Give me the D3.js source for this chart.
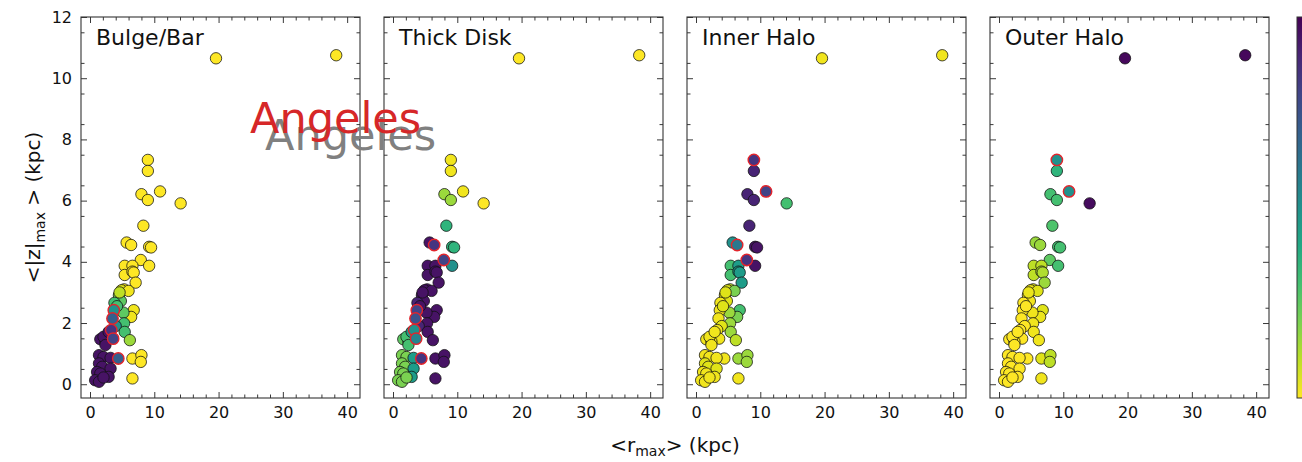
<!DOCTYPE html>
<html>
<head>
<meta charset="utf-8">
<title>Populations</title>
<style>
  body { margin: 0; background: #fff; }
  text { font-family: "DejaVu Sans", sans-serif; }
</style>
</head>
<body>
<script src="https://cdn.jsdelivr.net/npm/d3@7/dist/d3.min.js"></script>
<script>
var width = 1302, height = 462;

// panel titles
var panels = ["Bulge/Bar", "Thick Disk", "Inner Halo", "Outer Halo"];
// <r_max> (kpc)
var rmax = [19.6, 38.3, 9.0, 9.0, 8.0, 9.0, 10.9, 14.1, 8.3, 5.7,
            6.4, 9.2, 9.5, 7.9, 5.4, 6.6, 9.2, 5.4, 6.6, 6.8,
            7.1, 5.3, 4.9, 6.0, 4.5, 4.8, 3.8, 6.8, 6.4, 5.2,
            3.7, 3.5, 5.3, 4.0, 3.3, 5.4, 3.6, 6.2, 1.6, 2.4,
            2.1, 2.9, 2.4, 4.4, 6.6, 8.0, 7.9, 6.6, 1.4, 2.1,
            3.2, 1.4, 1.9, 3.2, 1.1, 1.6, 2.9, 0.8, 1.4, 2.1,
            4.2, 4.6];
// <|z|_max> (kpc)
var zmax = [10.65, 10.75, 7.33, 6.97, 6.21, 6.02, 6.30, 5.91, 5.18, 4.63,
            4.55, 4.49, 4.47, 4.06, 3.87, 3.87, 3.87, 3.57, 3.68, 3.65,
            3.32, 3.10, 3.07, 3.05, 2.91, 2.72, 2.66, 2.42, 2.20, 2.34,
            2.42, 2.15, 1.99, 1.90, 1.77, 1.71, 1.49, 1.44, 1.47, 1.39,
            1.55, 1.71, 1.28, 0.84, 0.84, 0.95, 0.73, 0.19, 0.95, 0.89,
            0.86, 0.68, 0.57, 0.51, 0.40, 0.35, 0.24, 0.13, 0.08, 0.22,
            2.55, 3.00];
// membership probability per population
var pBulge = [0, 0, 0, 0, 0, 0, 0, 0, 0, 0,
              0, 0, 0, 0, 0, 0, 0, 0, 0, 0,
              0, 0.02, 0.05, 0.02, 0.2, 0.25, 0.3, 0.02, 0.02, 0.25,
              0.5, 0.7, 0.3, 0.5, 0.85, 0.3, 0.8, 0.15, 0.95, 0.95,
              0.95, 0.95, 0.95, 0.7, 0, 0, 0, 0, 0.95, 0.95,
              0.95, 0.95, 0.95, 0.95, 0.95, 0.95, 0.95, 0.95, 0.95, 0.95,
              0.3, 0.1];
var pThick = [0, 0, 0.02, 0.02, 0.15, 0.15, 0.02, 0, 0.35, 0.95,
              0.85, 0.35, 0.35, 0.8, 0.95, 0.95, 0.5, 0.95, 0.95, 0.95,
              0.95, 0.95, 0.95, 0.95, 0.95, 0.95, 0.9, 0.95, 0.95, 0.95,
              0.8, 0.75, 0.95, 0.9, 0.5, 0.95, 0.55, 0.95, 0.25, 0.3,
              0.3, 0.45, 0.3, 0.85, 0.95, 0.95, 0.95, 0.95, 0.2, 0.2,
              0.45, 0.2, 0.2, 0.45, 0.2, 0.2, 0.45, 0.2, 0.2, 0.2,
              0.95, 0.95];
var pInner = [0.02, 0.02, 0.85, 0.9, 0.9, 0.9, 0.8, 0.3, 0.9, 0.5,
              0.6, 0.95, 0.95, 0.85, 0.3, 0.45, 0.95, 0.3, 0.45, 0.45,
              0.45, 0.1, 0.05, 0.2, 0.05, 0.05, 0.02, 0.3, 0.2, 0.15,
              0.02, 0.02, 0.15, 0.05, 0.02, 0.15, 0.02, 0.1, 0.02, 0.02,
              0.02, 0.02, 0.02, 0.02, 0.15, 0.15, 0.15, 0.02, 0.02, 0.02,
              0.02, 0.05, 0.05, 0.05, 0.02, 0.02, 0.02, 0.02, 0.02, 0.02,
              0.05, 0.05];
var pOuter = [0.98, 0.98, 0.5, 0.35, 0.3, 0.3, 0.5, 0.97, 0.28, 0.15,
              0.15, 0.3, 0.3, 0.25, 0.1, 0.1, 0.3, 0.1, 0.12, 0.12,
              0.15, 0.05, 0.03, 0.05, 0.02, 0.02, 0, 0.05, 0.03, 0.02,
              0, 0, 0.02, 0, 0, 0.02, 0, 0.02, 0, 0,
              0, 0, 0, 0, 0.05, 0.1, 0.1, 0.02, 0, 0,
              0, 0, 0, 0, 0, 0, 0, 0, 0, 0,
              0, 0.03];
// stars with an ambiguous assignment (red edge where their probability is notable)
var ambiguous = [2, 6, 10, 13, 30, 31, 34, 36, 43];

var probs = [pBulge, pThick, pInner, pOuter];
var xTicks = [0, 10, 20, 30, 40];
var yTicks = [0, 2, 4, 6, 8, 10, 12];

var svg = d3.select("body").append("svg")
  .attr("width", width).attr("height", height);

var plotTop = 17, plotBottom = 398, pw = 279;
var lefts = [81, 384, 687, 990];

var y = d3.scaleLinear().domain([-0.45, 12]).range([plotBottom, plotTop]);
var color = function(v) { return d3.interpolateViridis(1 - v); };
var minorX = d3.range(0, 42, 2).filter(function(v) { return v % 10; });
var minorY = d3.range(0.5, 12, 1);

panels.forEach(function(name, k) {
  var x = d3.scaleLinear().domain([-1.4, 42]).range([lefts[k], lefts[k] + pw]);
  var g = svg.append("g");
  var right = lefts[k] + pw;

  // axes with inward ticks on all sides
  var yl = d3.axisLeft(y).tickValues(yTicks).tickSize(-6).tickPadding(9);
  if (k > 0) yl.tickFormat("");
  var axes = [
    [d3.axisBottom(x).tickValues(xTicks).tickSize(-6).tickPadding(9), 0, plotBottom],
    [d3.axisBottom(x).tickValues(minorX).tickSize(-3.5).tickFormat(""), 0, plotBottom],
    [d3.axisTop(x).tickValues(xTicks).tickSize(-6).tickFormat(""), 0, plotTop],
    [d3.axisTop(x).tickValues(minorX).tickSize(-3.5).tickFormat(""), 0, plotTop],
    [yl, lefts[k], 0],
    [d3.axisLeft(y).tickValues(minorY).tickSize(-3.5).tickFormat(""), lefts[k], 0],
    [d3.axisRight(y).tickValues(yTicks).tickSize(-6).tickFormat(""), right, 0],
    [d3.axisRight(y).tickValues(minorY).tickSize(-3.5).tickFormat(""), right, 0]
  ];
  axes.forEach(function(a) {
    var ax = g.append("g").attr("transform", "translate(" + a[1] + "," + a[2] + ")").call(a[0]);
    ax.select(".domain").remove();
    ax.selectAll("line").attr("stroke", "#222").attr("stroke-width", 0.9);
    ax.selectAll("text").attr("font-size", 16).attr("fill", "#111")
      .attr("font-family", "DejaVu Sans, sans-serif");
  });

  g.append("rect").attr("x", lefts[k]).attr("y", plotTop)
    .attr("width", pw).attr("height", plotBottom - plotTop)
    .attr("fill", "none").attr("stroke", "#333").attr("stroke-width", 1.1);

  var p = probs[k];
  var idx = d3.range(rmax.length);
  var red = function(i) { return ambiguous.indexOf(i) >= 0 && p[i] >= 0.35; };
  idx.sort(function(a, b) { return (red(a) ? 1 : 0) - (red(b) ? 1 : 0); });

  g.selectAll("circle.star").data(idx).enter().append("circle")
    .attr("class", "star")
    .attr("cx", function(i) { return x(rmax[i]); })
    .attr("cy", function(i) { return y(zmax[i]); })
    .attr("r", 5.7)
    .attr("fill", function(i) { return color(p[i]); })
    .attr("stroke", function(i) { return red(i) ? "#e3242b" : "#111"; })
    .attr("stroke-opacity", function(i) { return red(i) ? 1 : 0.85; })
    .attr("stroke-width", function(i) { return red(i) ? 1.4 : 0.9; });

  g.append("text").attr("x", lefts[k] + 15).attr("y", 45)
    .attr("font-size", 22).attr("fill", "#111").text(name);
});

// colorbar (cut at the right edge)
var grad = svg.append("defs").append("linearGradient").attr("id", "cb")
  .attr("x1", 0).attr("y1", 1).attr("x2", 0).attr("y2", 0);
d3.range(0, 1.01, 0.1).forEach(function(t) {
  grad.append("stop").attr("offset", t).attr("stop-color", color(t));
});
svg.append("rect").attr("x", 1297).attr("y", plotTop).attr("width", 16).attr("height", plotBottom - plotTop)
  .attr("fill", "url(#cb)").attr("stroke", "#333").attr("stroke-width", 1);

// axis labels
var ylab = svg.append("text").attr("transform", "translate(40," + ((plotTop + plotBottom) / 2) + ") rotate(-90)")
  .attr("text-anchor", "middle").attr("font-size", 20).attr("fill", "#111");
ylab.append("tspan").text("<|z|");
ylab.append("tspan").attr("font-size", 14).attr("dy", 5).text("max");
ylab.append("tspan").attr("dy", -5).text(" > (kpc)");

var xlab = svg.append("text").attr("x", 675).attr("y", 452)
  .attr("text-anchor", "middle").attr("font-size", 20).attr("fill", "#111");
xlab.append("tspan").text("<r");
xlab.append("tspan").attr("font-size", 14).attr("dy", 4).text("max");
xlab.append("tspan").attr("dy", -4).text("> (kpc)");

// overlapping annotation
svg.append("text").attr("x", 265).attr("y", 150).attr("font-size", 43)
  .attr("fill", "#808080").text("Angeles");
svg.append("text").attr("x", 250).attr("y", 133).attr("font-size", 43)
  .attr("fill", "#d62728").text("Angeles");
</script>
</body>
</html>
